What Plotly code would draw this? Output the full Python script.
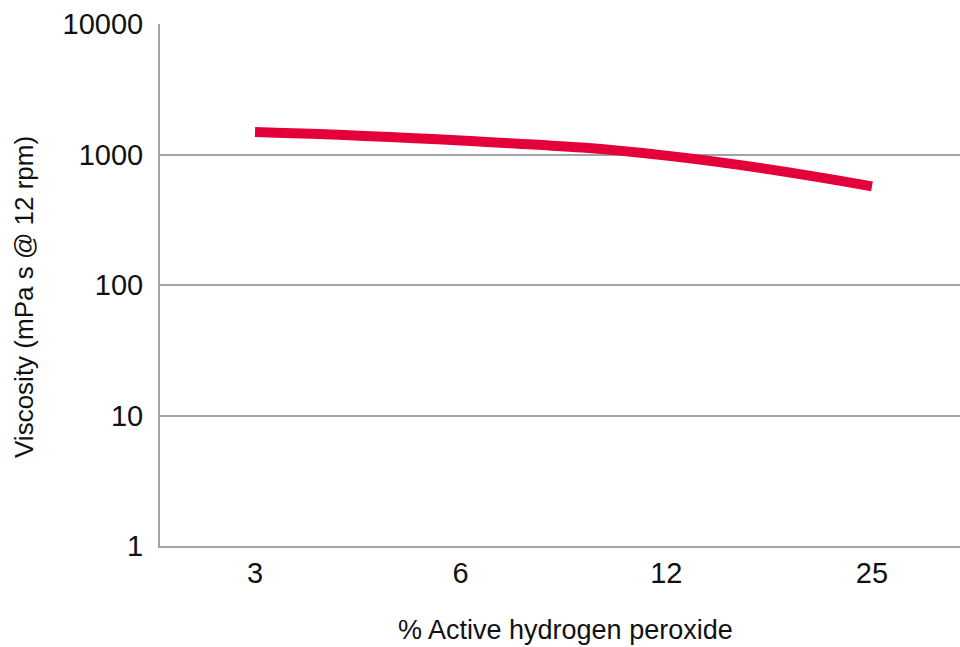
import plotly.graph_objects as go

# Viscosity vs. active hydrogen peroxide concentration
concentration_labels = ["3", "6", "12", "25"]
viscosity_mpas = [1490, 1280, 980, 570]
y_tick_values = [1, 10, 100, 1000, 10000]
y_tick_labels = ["1", "10", "100", "1000", "10000"]

positions = list(range(len(concentration_labels)))

LINE_RED = "#E4003A"
GRID_GREY = "#a3a3a3"
FONT = "Liberation Sans, Arial, Helvetica, sans-serif"

fig = go.Figure()
fig.add_trace(go.Scatter(
    x=positions,
    y=viscosity_mpas,
    mode="lines",
    line=dict(color=LINE_RED, width=10, shape="spline", smoothing=1.3),
    hoverinfo="skip",
    showlegend=False,
))

plot_left, plot_top, plot_w, plot_h = 160, 24, 800, 522

fig.update_layout(
    width=960,
    height=647,
    margin=dict(l=plot_left, r=0, t=plot_top, b=647 - plot_top - plot_h),
    paper_bgcolor="white",
    plot_bgcolor="white",
    font=dict(family=FONT, size=29, color="#111111"),
    xaxis=dict(
        range=[-0.462, 3.428],
        tickvals=positions,
        ticktext=concentration_labels,
        showgrid=False,
        zeroline=False,
        showline=True,
        linecolor=GRID_GREY,
        linewidth=2,
        ticks="",
        tickfont=dict(size=29),
    ),
    yaxis=dict(
        type="log",
        range=[0, 4],
        tickvals=y_tick_values,
        ticktext=y_tick_labels,
        showgrid=True,
        gridcolor=GRID_GREY,
        gridwidth=2,
        zeroline=False,
        showline=True,
        linecolor=GRID_GREY,
        linewidth=2,
        ticks="outside",
        ticklen=9,
        tickcolor="rgba(0,0,0,0)",
        tickfont=dict(size=29),
    ),
    annotations=[
        dict(
            text="% Active hydrogen peroxide",
            xref="paper", yref="paper",
            x=(565 - plot_left) / plot_w,
            y=(plot_top + plot_h - 630) / plot_h,
            xanchor="center", yanchor="middle",
            showarrow=False, font=dict(size=27),
        ),
        dict(
            text="Viscosity (mPa s @ 12 rpm)",
            xref="paper", yref="paper",
            x=(24 - plot_left) / plot_w,
            y=(plot_top + plot_h - 297) / plot_h,
            xanchor="center", yanchor="middle",
            showarrow=False, textangle=-90, font=dict(size=26),
        ),
    ],
)

fig.write_html("out.html")
